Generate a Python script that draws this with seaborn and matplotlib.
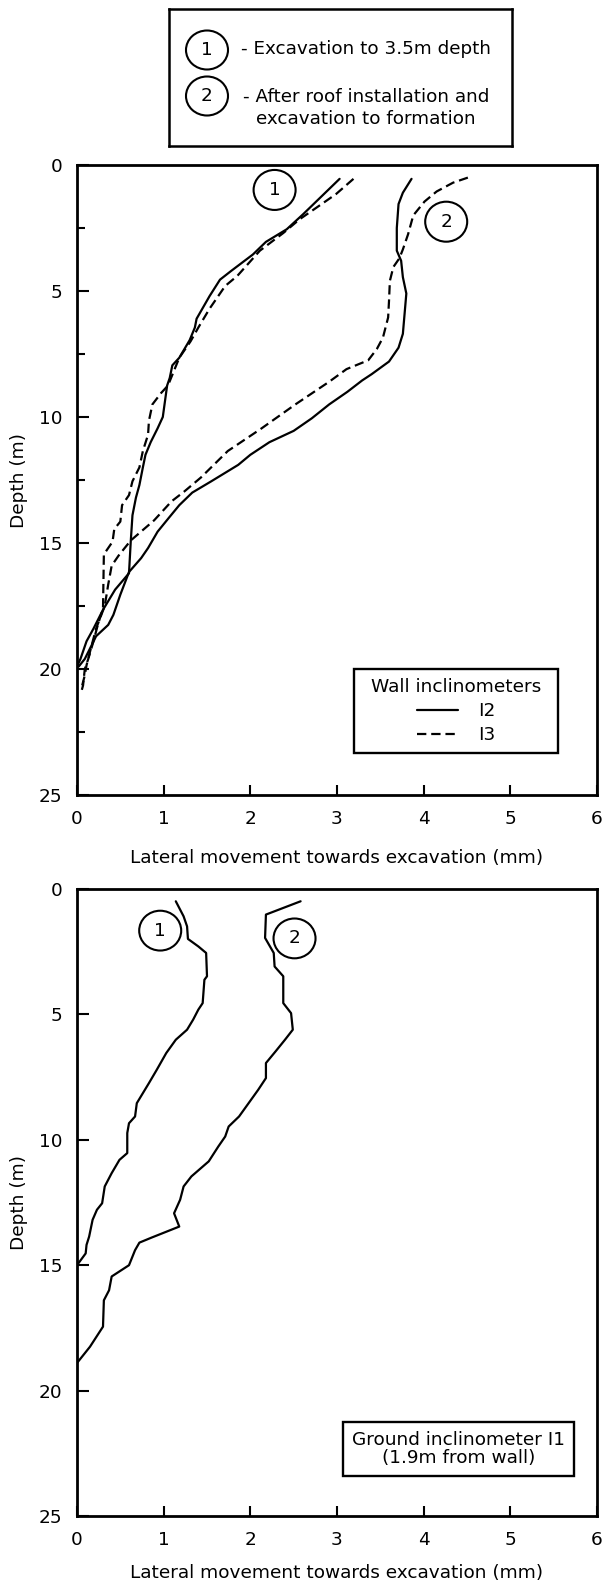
import numpy as np
import pandas as pd
import matplotlib
matplotlib.use("Agg")
import matplotlib.pyplot as plt
from matplotlib.patches import Ellipse
from matplotlib.lines import Line2D
import seaborn as sns

# ---------------- wall inclinometers (depth in m, movement in mm) ----------------
i2_stage1_depth = [0.55, 1.95, 2.55, 3.05, 3.55, 4.2, 4.55, 5.2, 6.1, 6.45, 6.95, 7.65, 7.95,
                   8.45, 8.75, 9.5, 10.0, 10.45, 11.0, 11.5, 12.0, 12.7, 13.2, 13.9, 14.95,
                   16.2, 16.85, 17.65, 18.4, 18.9, 19.6, 19.9]
i2_stage1_move = [3.03, 2.61, 2.42, 2.18, 2.03, 1.78, 1.65, 1.53, 1.38, 1.36, 1.30, 1.18, 1.10,
                  1.07, 1.04, 1.01, 0.99, 0.93, 0.85, 0.79, 0.76, 0.72, 0.68, 0.64, 0.62,
                  0.60, 0.44, 0.30, 0.19, 0.11, 0.04, 0.0]

i3_stage1_depth = [0.55, 1.15, 1.7, 2.15, 2.7, 3.4, 4.4, 4.8, 5.7, 6.45, 7.0, 7.65, 8.75, 9.05,
                   9.5, 10.15, 10.7, 11.35, 12.0, 12.55, 13.1, 13.5, 14.15, 14.45, 14.95, 15.45,
                   17.6, 18.25, 18.9, 19.6, 20.0, 20.65, 20.9]
i3_stage1_move = [3.19, 2.99, 2.76, 2.57, 2.38, 2.11, 1.85, 1.71, 1.53, 1.40, 1.31, 1.18, 1.05, 0.97,
                  0.87, 0.83, 0.82, 0.76, 0.72, 0.64, 0.60, 0.52, 0.50, 0.43, 0.41, 0.31,
                  0.30, 0.24, 0.19, 0.13, 0.09, 0.07, 0.05]

i2_stage2_depth = [0.55, 1.1, 1.55, 2.5, 3.4, 3.8, 4.45, 5.1, 5.9, 6.7, 7.25, 7.8, 8.3, 8.55,
                   9.0, 9.5, 10.05, 10.55, 11.0, 11.5, 11.9, 12.55, 13.0, 13.5, 14.0, 14.55,
                   15.2, 15.6, 16.15, 17.05, 17.85, 18.25, 18.7, 19.05, 19.6, 19.9]
i2_stage2_move = [3.86, 3.76, 3.71, 3.69, 3.69, 3.74, 3.76, 3.80, 3.78, 3.76, 3.71, 3.60, 3.40, 3.29,
                  3.12, 2.91, 2.71, 2.50, 2.22, 2.00, 1.86, 1.55, 1.33, 1.18, 1.06, 0.93,
                  0.82, 0.74, 0.60, 0.50, 0.42, 0.36, 0.22, 0.17, 0.09, 0.02]

i3_stage2_depth = [0.5, 0.7, 1.05, 1.45, 2.0, 2.75, 3.35, 3.7, 4.05, 4.6, 5.4, 6.05, 6.85, 7.3,
                   7.75, 8.1, 8.6, 9.5, 10.45, 11.35, 12.4, 12.95, 13.35, 14.1, 14.9, 15.5,
                   15.9, 16.65, 17.5, 18.4, 19.05, 19.85, 20.25, 20.65]
i3_stage2_move = [4.51, 4.34, 4.15, 4.01, 3.88, 3.82, 3.76, 3.72, 3.65, 3.61, 3.60, 3.59, 3.53, 3.46,
                  3.36, 3.11, 2.91, 2.52, 2.13, 1.74, 1.43, 1.24, 1.09, 0.89, 0.62, 0.48,
                  0.40, 0.36, 0.32, 0.22, 0.17, 0.11, 0.09, 0.06]

# ---------------- ground inclinometer I1 ----------------
i1_stage1_depth = [0.49, 1.09, 1.49, 1.99, 2.29, 2.55, 3.48, 3.62, 4.55, 4.81, 5.21, 5.61, 6.01,
                   6.54, 7.21, 7.74, 8.14, 8.54, 9.07, 9.34, 9.73, 10.53, 10.8, 11.33, 11.86,
                   12.53, 12.79, 13.19, 13.86, 14.19, 14.53, 15.0]
i1_stage1_move = [1.14, 1.23, 1.27, 1.28, 1.40, 1.49, 1.50, 1.47, 1.45, 1.40, 1.34, 1.27, 1.14,
                  1.03, 0.92, 0.83, 0.76, 0.69, 0.67, 0.60, 0.58, 0.58, 0.49, 0.40, 0.32,
                  0.29, 0.23, 0.18, 0.14, 0.11, 0.10, 0.0]

i1_stage2_depth = [0.49, 1.02, 1.95, 2.55, 3.09, 3.48, 4.55, 4.95, 5.61, 6.01, 6.48, 6.94, 7.54,
                   8.01, 8.54, 9.07, 9.47, 9.87, 10.27, 10.86, 11.46, 11.86, 12.39, 12.93, 13.46,
                   13.9, 14.1, 14.4, 15.0, 15.45, 16.0, 16.4, 17.45, 18.25, 18.9]
i1_stage2_move = [2.58, 2.18, 2.17, 2.27, 2.28, 2.38, 2.38, 2.47, 2.49, 2.40, 2.29, 2.18, 2.18,
                  2.09, 1.98, 1.87, 1.75, 1.71, 1.63, 1.52, 1.32, 1.23, 1.19, 1.12, 1.18,
                  0.86, 0.72, 0.67, 0.60, 0.40, 0.37, 0.31, 0.30, 0.15, 0.0]

stage_labels = ["1", "2"]
stage_key = ["- Excavation to 3.5m depth",
             "- After roof installation and\nexcavation to formation"]
wall_names = ["I2", "I3"]
x_ticks = [0, 1, 2, 3, 4, 5, 6]
y_ticks = [0, 5, 10, 15, 20, 25]
y_minor_top = [2.5, 7.5, 12.5, 17.5, 22.5]


def frame(depths, moves, inclinometer, stage):
    return pd.DataFrame({"depth": depths, "movement": moves,
                         "inclinometer": inclinometer, "stage": stage})


wall = pd.concat([
    frame(i2_stage1_depth, i2_stage1_move, "I2", "1"),
    frame(i3_stage1_depth, i3_stage1_move, "I3", "1"),
    frame(i2_stage2_depth, i2_stage2_move, "I2", "2"),
    frame(i3_stage2_depth, i3_stage2_move, "I3", "2"),
], ignore_index=True)
ground = pd.concat([
    frame(i1_stage1_depth, i1_stage1_move, "I1", "1"),
    frame(i1_stage2_depth, i1_stage2_move, "I1", "2"),
], ignore_index=True)

# ---------------- styling ----------------
sns.set_style("white")
plt.rcParams["font.family"] = ["DejaVu Sans"]
plt.rcParams["text.color"] = "black"
plt.rcParams["axes.labelcolor"] = "black"

W, H = 604, 1592
fig = plt.figure(figsize=(W / 100, H / 100), dpi=100)
fig.patch.set_facecolor("white")

FS = 13.3
LW = 1.6
DASH = (4.2, 2.2)


def px_axes(left, top, right, bottom):
    return fig.add_axes([left / W, 1 - bottom / H, (right - left) / W, (bottom - top) / H])


def style_axes(ax, minor_y):
    ax.set_xlim(0, 6)
    ax.set_ylim(25, 0)
    ax.set_xticks(x_ticks)
    ax.set_xticklabels([str(v) for v in x_ticks])
    ax.set_yticks(y_ticks)
    ax.set_yticklabels([str(v) for v in y_ticks])
    if minor_y:
        ax.set_yticks(minor_y, minor=True)
    for s in ax.spines.values():
        s.set_visible(True)
        s.set_linewidth(2.0)
        s.set_color("black")
    ax.tick_params(axis="both", which="both", direction="in", color="black",
                   width=1.5, labelsize=FS, pad=10.5, labelcolor="black")
    ax.tick_params(axis="x", which="major", length=7.2, bottom=True, top=False)
    ax.tick_params(axis="y", which="major", length=8.6, left=True, right=False)
    ax.tick_params(axis="y", which="minor", length=5.8, left=True, right=False)
    ax.set_xlabel("Lateral movement towards excavation (mm)", fontsize=FS)
    ax.set_ylabel("Depth (m)", fontsize=FS)
    ax.xaxis.label.set_va("center")
    ax.yaxis.label.set_va("center")
    ax.grid(False)


def stage_circle(ax, x, d, text):
    ax.add_patch(Ellipse((x, d), width=42 / 86.67, height=40 / 25.2, fill=False,
                         edgecolor="black", linewidth=1.5, zorder=3))
    ax.text(x, d, text, ha="center", va="center", fontsize=FS, zorder=4)


# ---------------- key box at the top ----------------
key = px_axes(169, 9, 512, 146)
key.set_xlim(169, 512)
key.set_ylim(146, 9)
key.set_xticks([])
key.set_yticks([])
for s in key.spines.values():
    s.set_visible(True)
    s.set_linewidth(1.8)
    s.set_color("black")
key_rows = [(207, 50), (207, 96)]
for (cx, cy), lab in zip(key_rows, stage_labels):
    key.add_patch(Ellipse((cx, cy), 42, 39, fill=False, edgecolor="black", linewidth=1.5))
    key.text(cx, cy, lab, ha="center", va="center", fontsize=FS)
key.text(241, 49, stage_key[0], ha="left", va="center", fontsize=13.2)
key.text(243, 108, stage_key[1], ha="left", va="center", fontsize=13.2,
         multialignment="center", linespacing=1.22)

# ---------------- wall inclinometer panel ----------------
ax1 = px_axes(77, 165, 597, 795)
sns.lineplot(data=wall, x="movement", y="depth", style="inclinometer", units="stage",
             estimator=None, sort=False, color="black", linewidth=LW,
             dashes={"I2": "", "I3": DASH}, legend=False, ax=ax1)
style_axes(ax1, y_minor_top)
ax1.xaxis.set_label_coords(0.5, -0.1)
ax1.yaxis.set_label_coords(-0.1115, 0.5)
stage_circle(ax1, 2.28, 0.99, "1")
stage_circle(ax1, 4.26, 2.25, "2")

handles = [Line2D([], [], color="black", linewidth=LW),
           Line2D([], [], color="black", linewidth=LW, dashes=DASH)]
leg = ax1.legend(handles, wall_names, title="Wall inclinometers", loc="center",
                 bbox_to_anchor=(0.729, 0.1333), fontsize=FS, title_fontsize=FS,
                 frameon=True, fancybox=False, edgecolor="black", framealpha=1,
                 borderpad=0.45, labelspacing=0.35, handlelength=2.2,
                 handletextpad=1.1, borderaxespad=0)
leg.get_frame().set_linewidth(1.7)
try:
    pad_px = 0.45 * FS * 100 / 72
    leg._legend_box.width = 204 - 2 * pad_px
except Exception:
    pass

# ---------------- ground inclinometer panel ----------------
ax2 = px_axes(77, 889, 597, 1516)
sns.lineplot(data=ground, x="movement", y="depth", units="stage", estimator=None,
             sort=False, color="black", linewidth=LW, legend=False, ax=ax2)
style_axes(ax2, None)
ax2.xaxis.set_label_coords(0.5, -0.0909)
ax2.yaxis.set_label_coords(-0.1115, 0.5)
stage_circle(ax2, 0.96, 1.66, "1")
stage_circle(ax2, 2.51, 1.97, "2")
ax2.text(0.734, 0.107, "Ground inclinometer I1\n(1.9m from wall)", transform=ax2.transAxes,
         ha="center", va="center", multialignment="center", linespacing=1.0,
         fontsize=FS,
         bbox=dict(boxstyle="square,pad=0.5", facecolor="white", edgecolor="black",
                   linewidth=1.7))

fig.savefig("out.png", dpi=100, facecolor="white")
